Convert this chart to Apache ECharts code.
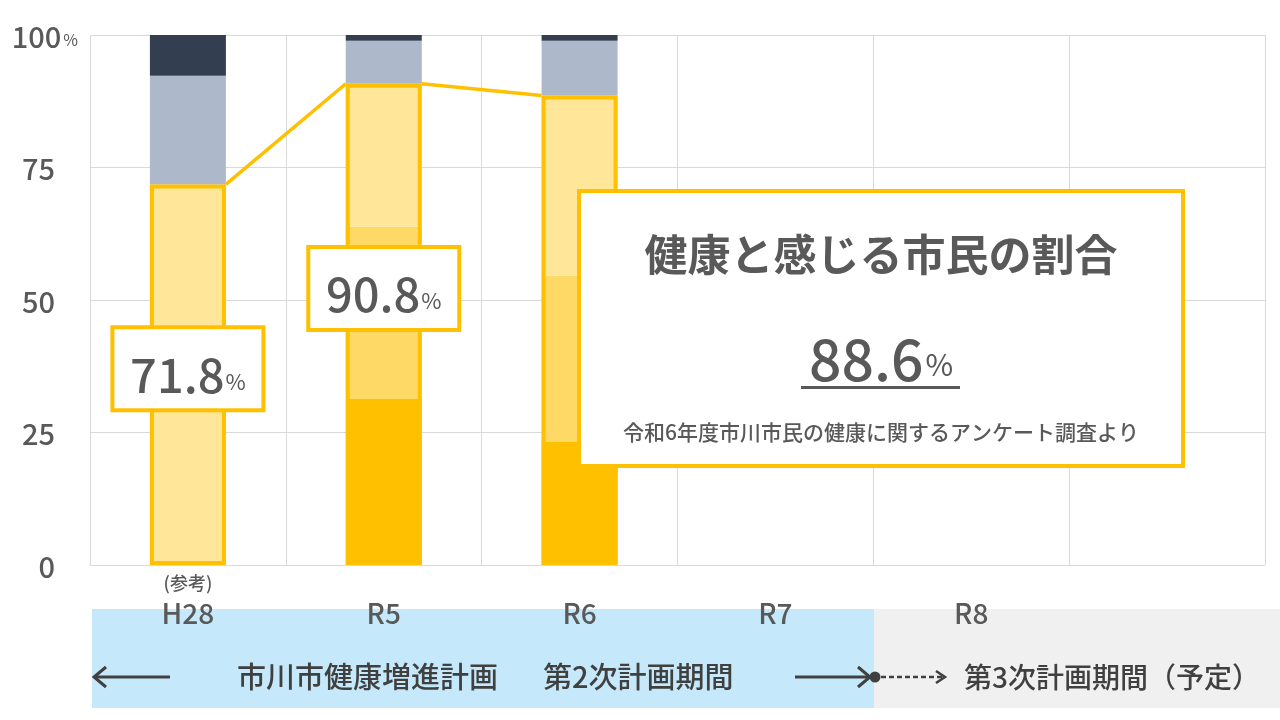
<!DOCTYPE html>
<html><head><meta charset="utf-8">
<script src="https://cdn.jsdelivr.net/npm/echarts@6/dist/echarts.min.js"></script>
<style>html,body{margin:0;padding:0;background:#fff}#c{width:1280px;height:720px}</style>
</head><body><div id="c"></div>
<script>
// ---- data ----
const categories = ['H28', 'R5', 'R6', 'R7', 'R8', ''];
const categoryNotes = ['(参考)', '', '', '', '', ''];
const yTicks = [0, 25, 50, 75, 100];
const segHealthy        = [null, 31.3, 23.2, null, null, null];
const segFairlyHealthy  = [null, 32.5, 31.4, null, null, null];
const segSomewhat       = [71.8, 27.0, 34.0, null, null, null];
const segNotVery        = [20.5,  8.1, 10.3, null, null, null];
const segNotAtAll       = [ 7.7,  1.1,  1.1, null, null, null];
const healthyTotal      = [71.8, 90.8, 88.6, null, null, null];
const highlightIndex = 2;
const highlightTitle = '健康と感じる市民の割合';
const highlightSource = '令和6年度市川市民の健康に関するアンケート調査より';
const planCurrent = ['市川市健康増進計画', '第2次計画期間'];
const planNext = '第3次計画期間（予定）';

// ---- styles ----
const FONT = '"Noto Sans CJK JP","Noto Sans",sans-serif';
const TXT = '#595959';
const GOLD = '#FFC000';
const BAR_W = 76;
const W = 500;
const calloutOffsets = [[0, -6], [0, -36]];

function seg(name, data, color) {
  return {
    type: 'bar', name, stack: 'total', data, barWidth: BAR_W, barGap: '-100%',
    itemStyle: { color }, silent: true, emphasis: { disabled: true }, z: 2
  };
}

const chart = echarts.init(document.getElementById('c'), null, { renderer: 'canvas' });

const option = {
  animation: false,
  backgroundColor: '#fff',
  textStyle: { fontFamily: FONT },
  grid: { left: 90, right: 15, top: 35, bottom: 155 },
  xAxis: {
    type: 'category', data: categories,
    axisTick: { show: false },
    axisLine: { lineStyle: { color: '#D9D9D9', width: 1 } },
    splitLine: { show: true, lineStyle: { color: '#D9D9D9', width: 1 } },
    axisLabel: {
      interval: 0, margin: 4, color: TXT, fontFamily: FONT,
      formatter: (v, i) => '{s|' + (categoryNotes[i] || ' ') + '}\n{c|' + v + '}',
      rich: {
        s: { fontSize: 18, lineHeight: 29, color: TXT, fontFamily: FONT, fontWeight: W },
        c: { fontSize: 28, lineHeight: 30, color: TXT, fontFamily: FONT, fontWeight: W }
      }
    }
  },
  yAxis: {
    type: 'value', min: yTicks[0], max: yTicks[yTicks.length - 1], interval: 25,
    axisLine: { show: false }, axisTick: { show: false },
    splitLine: { lineStyle: { color: '#D9D9D9', width: 1 } },
    axisLabel: {
      margin: 12, color: TXT, fontFamily: FONT,
      formatter: v => v === 100 ? '{a|' + v + '}{b|%}' : '{n|' + v + '}',
      rich: {
        a: { fontSize: 29, lineHeight: 32, color: TXT, verticalAlign: 'bottom', fontFamily: FONT, fontWeight: W },
        n: { fontSize: 29, lineHeight: 32, color: TXT, verticalAlign: 'bottom', padding: [0, 23, 0, 0], fontFamily: FONT, fontWeight: W },
        b: { fontSize: 16, lineHeight: 18, color: TXT, verticalAlign: 'bottom', padding: [0, 0, 3, 2], fontFamily: FONT }
      }
    }
  },
  series: [
    seg('健康', segHealthy, '#FFC000'),
    seg('まあ健康', segFairlyHealthy, '#FFD966'),
    seg('どちらかといえば健康', segSomewhat, '#FFE699'),
    seg('あまり健康でない', segNotVery, '#ADB9CA'),
    seg('健康でない', segNotAtAll, '#333F50'),
    {
      type: 'bar', name: '健康と感じる', barWidth: BAR_W, barGap: '-100%', silent: true,
      emphasis: { disabled: true }, z: 5,
      data: healthyTotal.map((v, i) => v == null ? null : {
        value: v,
        label: { show: i !== highlightIndex, offset: calloutOffsets[i] || [0, 0] }
      }),
      itemStyle: { color: 'rgba(0,0,0,0)', borderColor: GOLD, borderWidth: 4 },
      label: {
        position: 'inside',
        formatter: p => '{v|' + p.value.toFixed(1) + '}{p|%}',
        backgroundColor: '#fff', borderColor: GOLD, borderWidth: 4,
        width: 147, padding: [11, 0, 10, 0], align: 'center',
        rich: {
          v: { fontSize: 47, lineHeight: 58, color: TXT, verticalAlign: 'bottom', fontFamily: FONT, fontWeight: W },
          p: { fontSize: 22, lineHeight: 26, color: TXT, verticalAlign: 'bottom', padding: [0, 0, 6, 1], fontFamily: FONT }
        }
      }
    },
    {
      type: 'custom', name: 'series lines', silent: true, z: 4,
      data: healthyTotal.slice(0, -1).map((v, i) => [i, v, healthyTotal[i + 1]])
        .filter(d => d[1] != null && d[2] != null),
      encode: { x: 0, y: 1 },
      renderItem: (params, api) => {
        const i = api.value(0);
        const p1 = api.coord([i, api.value(1)]);
        const p2 = api.coord([i + 1, api.value(2)]);
        const hw = BAR_W / 2;
        return {
          type: 'line',
          shape: { x1: p1[0] + hw, y1: p1[1], x2: p2[0] - hw, y2: p2[1] },
          style: { stroke: GOLD, lineWidth: 3.5 }
        };
      }
    }
  ],
  graphic: [
    // plan period band
    { type: 'rect', z: -1, silent: true, shape: { x: 92, y: 609, width: 782, height: 99 }, style: { fill: '#C5E9FB' } },
    { type: 'rect', z: -1, silent: true, shape: { x: 874, y: 609, width: 406, height: 99 }, style: { fill: '#F0F0F0' } },
    // left arrow
    { type: 'line', z: 1, shape: { x1: 94, y1: 677, x2: 170, y2: 677 }, style: { stroke: '#404040', lineWidth: 3 } },
    { type: 'polyline', z: 1, shape: { points: [[106, 667], [94, 677], [106, 687]] }, style: { stroke: '#404040', lineWidth: 3, fill: null } },
    // right arrow
    { type: 'line', z: 1, shape: { x1: 795, y1: 677, x2: 871, y2: 677 }, style: { stroke: '#404040', lineWidth: 3 } },
    { type: 'polyline', z: 1, shape: { points: [[858, 667], [870, 677], [858, 687]] }, style: { stroke: '#404040', lineWidth: 3, fill: null } },
    { type: 'circle', z: 1, shape: { cx: 875, cy: 677, r: 5.5 }, style: { fill: '#404040' } },
    { type: 'line', z: 1, shape: { x1: 881, y1: 677, x2: 944, y2: 677 }, style: { stroke: '#404040', lineWidth: 2.5, lineDash: [5, 3] } },
    { type: 'polyline', z: 1, shape: { points: [[936, 671], [945, 677], [936, 683]] }, style: { stroke: '#404040', lineWidth: 2.5, fill: null } },
    // band texts
    { type: 'text', z: 1, style: { text: planCurrent[0], x: 237, y: 677, fill: '#404040', font: W + ' 29px ' + FONT, verticalAlign: 'middle', align: 'left' } },
    { type: 'text', z: 1, style: { text: planCurrent[1], x: 543, y: 677, fill: '#404040', font: W + ' 29px ' + FONT, verticalAlign: 'middle', align: 'left' } },
    { type: 'text', z: 1, style: { text: planNext, x: 964, y: 677, fill: '#404040', font: W + ' 28px ' + FONT, verticalAlign: 'middle', align: 'left' } },
    // highlight box
    { type: 'rect', z: 20, silent: true, shape: { x: 579, y: 191, width: 604, height: 275 }, style: { fill: '#fff', stroke: GOLD, lineWidth: 4 } },
    { type: 'text', z: 21, style: { text: highlightTitle, x: 881, y: 255, fill: TXT, font: 'bold 43px ' + FONT, align: 'center', verticalAlign: 'middle' } },
    {
      type: 'text', z: 21, style: {
        text: '{v|' + healthyTotal[highlightIndex].toFixed(1) + '}{p|%}', x: 881, y: 355,
        align: 'center', verticalAlign: 'middle',
        rich: {
          v: { fontSize: 57, lineHeight: 66, fill: TXT, fontFamily: FONT, fontWeight: W, verticalAlign: 'bottom' },
          p: { fontSize: 30, lineHeight: 34, fill: TXT, fontFamily: FONT, verticalAlign: 'bottom', padding: [0, 0, 8, 2] }
        }
      }
    },
    { type: 'rect', z: 21, shape: { x: 801, y: 386, width: 159, height: 3 }, style: { fill: TXT } },
    { type: 'text', z: 21, style: { text: highlightSource, x: 881, y: 432, fill: TXT, font: W + ' 21px ' + FONT, align: 'center', verticalAlign: 'middle' } }
  ]
};
chart.setOption(option);
</script>
</body></html>
